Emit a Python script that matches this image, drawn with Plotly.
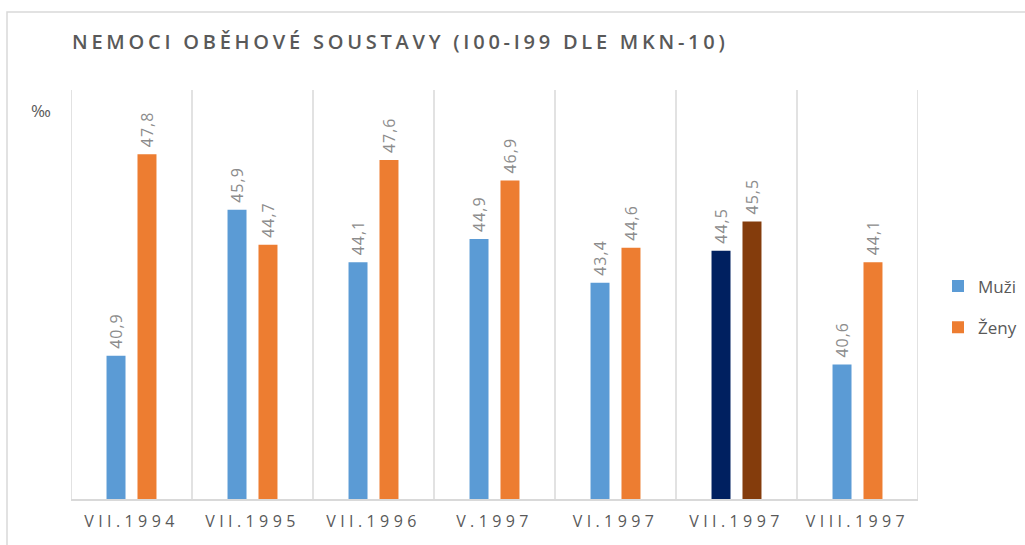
import plotly.graph_objects as go

categories = ["VII.1994", "VII.1995", "VII.1996", "V.1997", "VI.1997", "VII.1997", "VIII.1997"]
muzi = [40.9, 45.9, 44.1, 44.9, 43.4, 44.5, 40.6]
zeny = [47.8, 44.7, 47.6, 46.9, 44.6, 45.5, 44.1]

muzi_colors = ["#5B9BD5"] * 5 + ["#002060"] + ["#5B9BD5"]
zeny_colors = ["#ED7D31"] * 5 + ["#843C0C"] + ["#ED7D31"]

def fmt(v):
    return f"{v:.1f}".replace(".", ",")

label_font = dict(family="Open Sans", size=16, color="#8C8C8C")

fig = go.Figure()
fig.add_trace(go.Bar(
    x=categories, y=muzi, name="Muži", legendgroup="m",
    marker=dict(color=muzi_colors, line=dict(width=0)),
    text=[fmt(v) for v in muzi], textposition="outside", textangle=-90,
    textfont=label_font, cliponaxis=False, constraintext="none",
))
fig.add_trace(go.Bar(
    x=categories, y=zeny, name="Ženy", legendgroup="z",
    marker=dict(color=zeny_colors, line=dict(width=0)),
    text=[fmt(v) for v in zeny], textposition="outside", textangle=-90,
    textfont=label_font, cliponaxis=False, constraintext="none",
))

L, R, T, B = 71, 918, 90, 499
W, H = 1025, 545
pw = R - L
ph = B - T
n = len(categories)

fig.update_layout(
    width=W, height=H, autosize=False,
    margin=dict(l=L, r=W - R, t=T, b=H - B, autoexpand=False),
    paper_bgcolor="white", plot_bgcolor="white",
    barmode="group", bargap=0.488, bargroupgap=0.387,
    title=dict(
        text="NEMOCI OBĚHOVÉ SOUSTAVY (I00-I99 DLE MKN-10)",
        x=72 / W, xanchor="left", xref="container",
        y=1 - 42 / H, yanchor="middle", yref="container",
        font=dict(family="Open Sans", size=20, color="#595959", weight=600),
    ),
    xaxis=dict(
        range=[-0.5, n - 0.5],
        showgrid=False, showline=True, linecolor="#D9D9D9", linewidth=1.5,
        ticks="", tickfont=dict(family="Open Sans", size=16, color="#595959"),
        ticklabelstandoff=7,
    ),
    yaxis=dict(range=[36, 50], showgrid=False, showticklabels=False, zeroline=False,
               showline=False, fixedrange=True),
    legend=dict(
        x=(938 - L) / pw, xanchor="left", y=(B - 307) / ph, yanchor="middle",
        font=dict(family="Open Sans", size=17, color="#595959"),
        tracegroupgap=16, itemwidth=30,
    ),
    showlegend=True,
)

shapes = []
for i in range(n + 1):
    shapes.append(dict(type="line", xref="x", yref="paper", x0=i - 0.5, x1=i - 0.5,
                       y0=0, y1=1, line=dict(color="#D9D9D9", width=1.5), layer="below"))
shapes.append(dict(type="rect", xref="paper", yref="paper",
                   x0=(7 - L) / pw, x1=(W + 10 - L) / pw,
                   y0=(B - (H + 10)) / ph, y1=(B - 12) / ph,
                   line=dict(color="#D9D9D9", width=1.5), fillcolor="rgba(0,0,0,0)"))
fig.update_layout(shapes=shapes)

fig.add_annotation(text="‰", xref="paper", yref="paper",
                   x=(41 - L) / pw, y=(B - 111) / ph, xanchor="center", yanchor="middle",
                   showarrow=False,
                   font=dict(family="Open Sans", size=17, color="#595959"))

post = """
document.body.style.margin='0';
var gd = document.getElementById('{plot_id}');
function ls(){
  gd.querySelectorAll('.gtitle').forEach(function(e){e.style.letterSpacing='3.75px';});
  gd.querySelectorAll('.xtick text').forEach(function(e){e.style.letterSpacing='4.4px';});
  gd.querySelectorAll('text.bartext').forEach(function(e){
    e.style.letterSpacing='1px';
    if (!e.getAttribute('data-shifted')) {
      e.setAttribute('transform', 'translate(0,-6) ' + (e.getAttribute('transform') || ''));
      e.setAttribute('data-shifted', '1');
    }
  });
}
ls(); setTimeout(ls, 50);
if (gd.on) { gd.on('plotly_afterplot', ls); }
"""

fig.write_html("out.html", post_script=post,
               config={"responsive": False, "displayModeBar": False})
